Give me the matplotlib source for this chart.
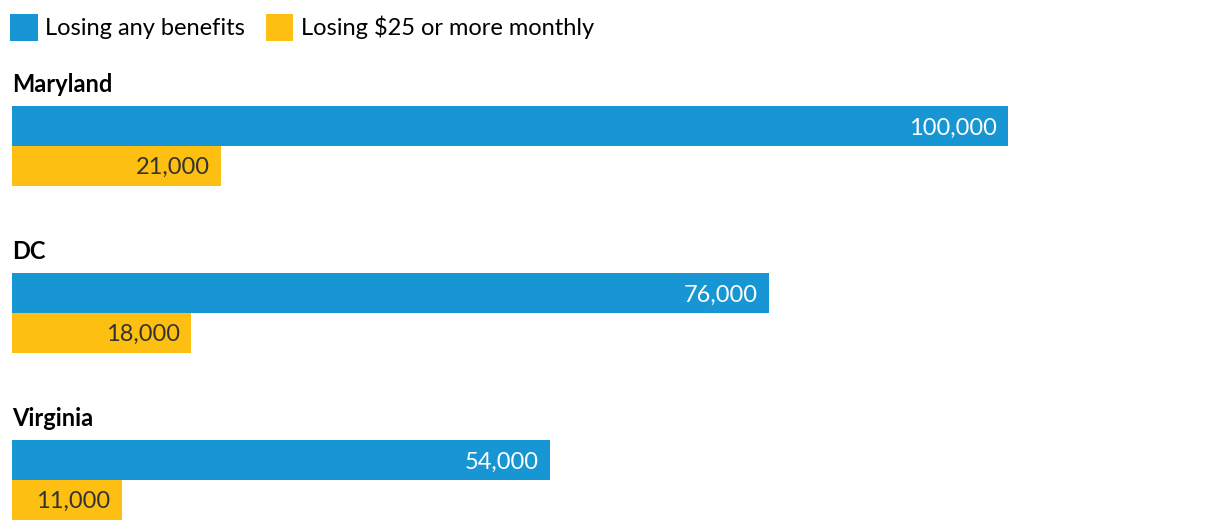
import matplotlib
matplotlib.use("Agg")
import matplotlib.pyplot as plt
from matplotlib.patches import Patch

plt.rcParams['font.family'] = ['Lato', 'DejaVu Sans']

states = ["Maryland", "DC", "Virginia"]
any_benefits = [100000, 76000, 54000]
over25 = [21000, 18000, 11000]
any_labels = ["100,000", "76,000", "54,000"]
over25_labels = ["21,000", "18,000", "11,000"]
series_names = ["Losing any benefits", "Losing $25 or more monthly"]

BLUE = "#1896D3"
YELLOW = "#FDBF12"

W, H = 1220, 530
fig = plt.figure(figsize=(W / 100, H / 100), dpi=100)
ax = fig.add_axes([0, 0, 1, 1])

# pixel-like layout
x0_px, full_px = 12, 996   # 0 at 12px, 100000 at 1008px
ax.set_xlim(-x0_px / full_px * 100000, (W - x0_px) / full_px * 100000)
ax.set_ylim(H, 0)
ax.axis("off")

FS = 17
first_center, step, bar_h = 126, 167, 40
for i, st in enumerate(states):
    yb = first_center + i * step
    yy = yb + bar_h - 0.5
    ax.barh(yb, any_benefits[i], height=bar_h, color=BLUE, left=0)
    ax.barh(yy, over25[i], height=bar_h, color=YELLOW, left=0)
    ax.annotate(any_labels[i], xy=(any_benefits[i], yb), xytext=(-8, 0),
                textcoords="offset points", ha="right", va="center_baseline",
                fontsize=FS, color="white")
    ax.annotate(over25_labels[i], xy=(over25[i], yy), xytext=(-8, 0),
                textcoords="offset points", ha="right", va="center_baseline",
                fontsize=FS, color="#333333")
    ax.annotate(st, xy=(0, yb - bar_h / 2), xytext=(0, 10),
                textcoords="offset points", ha="left", va="baseline",
                fontsize=FS, fontweight="bold", color="black")

handles = [Patch(facecolor=BLUE, linewidth=0), Patch(facecolor=YELLOW, linewidth=0)]
fig.legend(handles, series_names, loc="upper left",
           bbox_to_anchor=(10 / W, (H - 14) / H),
           ncol=2, frameon=False, fontsize=FS, handlelength=1.17,
           handleheight=1.4, handletextpad=0.3, columnspacing=0.9,
           borderaxespad=0, borderpad=0)

fig.savefig("out.png", dpi=100)
